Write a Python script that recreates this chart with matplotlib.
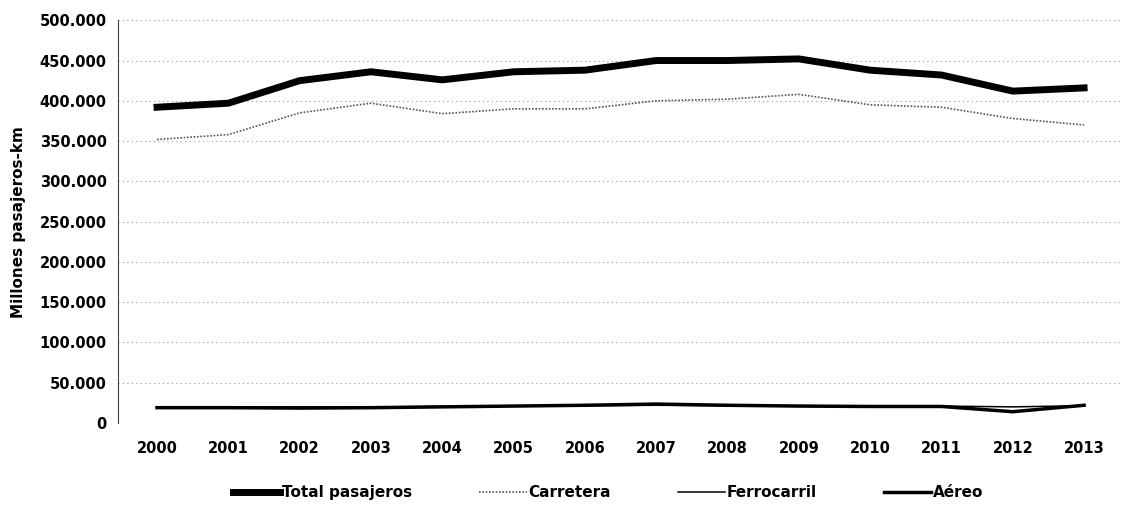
import matplotlib
matplotlib.use('Agg')
import matplotlib.pyplot as plt
from matplotlib.ticker import FuncFormatter

years = ['2000', '2001', '2002', '2003', '2004', '2005', '2006',
         '2007', '2008', '2009', '2010', '2011', '2012', '2013']

# millones pasajeros-km
total = [392000, 397000, 425000, 436000, 426000, 436000, 438000,
         450000, 450000, 452000, 438000, 432000, 412000, 416000]
carretera = [352000, 358000, 385000, 397000, 384000, 390000, 390000,
             400000, 402000, 408000, 395000, 392000, 378000, 370000]
ferrocarril = [20000, 20000, 20000, 20000, 20500, 21000, 21500,
               22000, 21500, 21500, 21000, 21000, 20000, 21500]
aereo = [19000, 19000, 18500, 19000, 20000, 21000, 22000,
         23500, 22000, 21000, 20500, 20500, 14000, 22000]

plt.rcParams['font.family'] = ['DejaVu Sans']

fig = plt.figure(figsize=(11.22, 5.19), dpi=100)
ax = fig.add_axes([0.105, 0.185, 0.893, 0.776])

x = range(len(years))
ax.plot(x, total, color='black', lw=5, label='Total pasajeros')
ax.plot(x, carretera, color='#555555', lw=1.2, ls=(0, (1, 1)), label='Carretera')
ax.plot(x, ferrocarril, color='black', lw=1.1, label='Ferrocarril')
ax.plot(x, aereo, color='black', lw=2.5, label='Aéreo')

ax.set_ylim(0, 500000)
ax.set_xlim(-0.55, 13.5)
ax.set_yticks(range(0, 500001, 50000))
ax.yaxis.set_major_formatter(FuncFormatter(
    lambda v, p: '0' if v == 0 else f'{int(v):,}'.replace(',', '.')))
ax.set_xticks(list(x))
ax.set_xticklabels(years)

ax.grid(axis='y', color='#999999', ls=(0, (1, 3)), lw=0.8)
for s in ['top', 'right', 'bottom']:
    ax.spines[s].set_visible(False)
ax.spines['left'].set_linestyle((0, (1, 1)))
ax.spines['left'].set_color('#444444')
ax.tick_params(axis='y', length=0, labelsize=10.5, pad=8)
ax.tick_params(axis='x', length=0, labelsize=10.5, pad=13)
for lab in ax.get_xticklabels() + ax.get_yticklabels():
    lab.set_fontweight('bold')

ax.set_ylabel('Millones pasajeros-km', fontsize=11, fontweight='bold', labelpad=10)

leg = fig.legend(loc='lower center', bbox_to_anchor=(0.542, 0.01), ncol=4,
                 frameon=False, handlelength=3.1, handletextpad=0.1,
                 columnspacing=4.4, prop={'weight': 'bold', 'size': 11})

fig.savefig('out.png', dpi=100)
